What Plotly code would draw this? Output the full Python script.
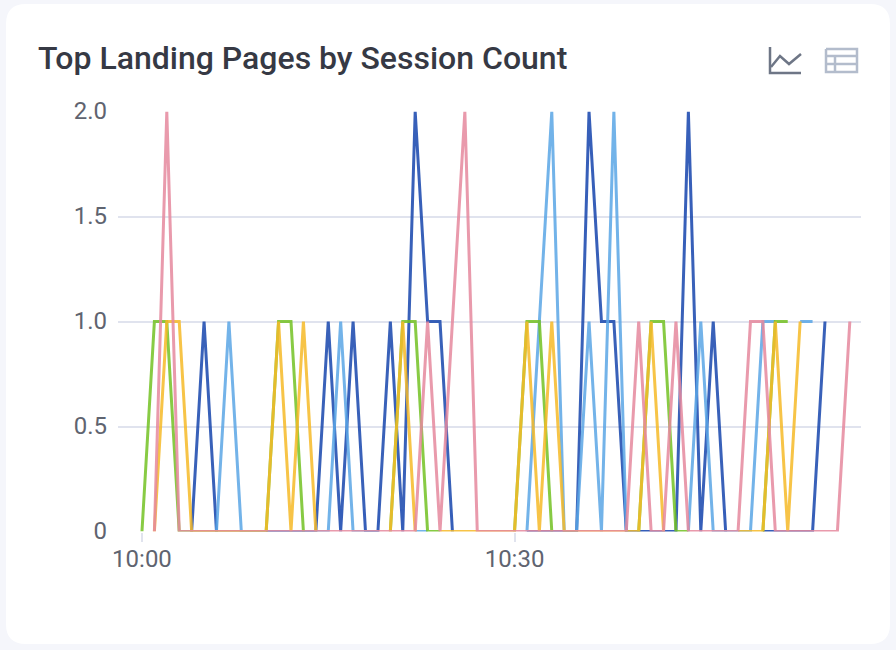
import plotly.graph_objects as go
from datetime import datetime, timedelta

N = None
# values per minute, starting at 10:00 (None = no data)
dark_blue = [N,N,N,N,0,1,0,N,N,N,0,0,0,0,0,1,0,1,0,0,1,0,2,1,1,0,N,N,N,N,N,0,0,0,0,0,2,1,1,0,0,0,0,0,2,0,1,0,N,N,0,0,0,0,0,1,N,N]
light_blue = [N,N,N,N,N,N,0,1,0,0,0,0,0,0,0,0,1,0,0,0,N,N,0,0,N,N,N,N,N,N,N,0,1,2,0,0,1,0,2,0,N,N,N,N,0,1,0,0,0,0,1,1,N,1,1,N,N,N]
green = [0,1,1,0,0,0,0,0,0,0,0,1,1,0,N,N,N,N,N,N,0,1,1,0,0,N,N,N,N,N,0,1,1,0,N,N,N,N,N,N,0,1,1,0,0,N,N,N,N,N,0,1,1,N,N,N,N,N]
yellow = [N,0,1,1,0,0,0,0,0,0,0,1,0,1,0,N,N,N,N,N,0,1,0,N,0,0,0,0,0,0,0,1,0,1,0,0,0,0,0,0,0,1,0,N,N,N,N,N,0,0,0,1,0,1,N,N,N,N]
pink = [N,0,2,0,0,0,0,0,0,0,0,0,0,0,0,0,0,0,0,0,0,0,0,1,0,1,2,0,0,0,0,0,0,0,0,0,0,0,0,0,1,0,0,1,0,0,0,0,0,1,1,0,0,0,0,0,0,1]
series = [dark_blue, light_blue, green, yellow, pink]
colors = ["#1746ad", "#5ba6e6", "#74c224", "#f6ba28", "#e6899e"]
start = datetime(2024, 1, 1, 10, 0)
times = [start + timedelta(minutes=i) for i in range(len(pink))]
y_ticks = [0, 0.5, 1, 1.5, 2]
y_labels = ["0", "0.5", "1.0", "1.5", "2.0"]
x_ticks = [start, start + timedelta(minutes=30)]
x_labels = ["10:00", "10:30"]

W, H = 896, 650
def px(x): return x / W
def py(y): return 1 - y / H

fig = go.Figure()
for vals, c in zip(series, colors):
    fig.add_trace(go.Scatter(x=times, y=vals, mode="lines", line=dict(color=c, width=3), opacity=0.85,
                             connectgaps=False, cliponaxis=False, showlegend=False, hoverinfo="skip"))

def icon(path, color, width=2.5, fill=None):
    return dict(type="path", path=path, xref="paper", yref="paper", layer="above",
                line=dict(color=color, width=width), fillcolor=fill or "rgba(0,0,0,0)")

def P(*pts):
    return "M " + " L ".join(f"{px(x):.5f} {py(y):.5f}" for x, y in pts)

shapes = [dict(type="path", xref="paper", yref="paper", layer="below", line=dict(width=0), fillcolor="#ffffff",
               path=(f"M {px(26)} {py(4)} L {px(870)} {py(4)} Q {px(890)} {py(4)} {px(890)} {py(24)} "
                     f"L {px(890)} {py(624)} Q {px(890)} {py(644)} {px(870)} {py(644)} "
                     f"L {px(26)} {py(644)} Q {px(6)} {py(644)} {px(6)} {py(624)} L {px(6)} {py(24)} Q {px(6)} {py(4)} {px(26)} {py(4)} Z"))]
ic = "#6e7686"
shapes += [icon(P((770, 47), (770, 73), (801, 73)), ic),
           icon(P((771, 67), (780, 56), (789, 64), (801, 54)), ic)]
tc = "#b3bccc"
shapes += [icon(P((826, 49), (857, 49), (857, 72), (826, 72), (826, 49)), tc),
           icon(P((826, 56), (857, 56)), tc), icon(P((826, 64), (857, 64)), tc),
           icon(P((835, 56), (835, 72)), tc)]

fig.update_layout(
    width=W, height=H, margin=dict(l=0, r=0, t=0, b=0, pad=0), autosize=False,
    paper_bgcolor="#f5f6fb", plot_bgcolor="rgba(0,0,0,0)",
    font=dict(family="Roboto", color="#5f6470", size=24),
    shapes=shapes,
    annotations=[dict(text="Top Landing Pages by Session Count", xref="paper", yref="paper", x=px(36), y=py(58),
                      xanchor="left", yanchor="middle", showarrow=False,
                      font=dict(family="Roboto", size=32, weight=500, color="#363944"))],
    xaxis=dict(domain=[px(118), px(861)], type="date", automargin=False,
               range=[start - timedelta(minutes=1.93), start + timedelta(minutes=57.9)],
               tickmode="array", tickvals=x_ticks, ticktext=x_labels, showgrid=False, zeroline=False,
               ticks="outside", ticklen=9, tickwidth=2, tickcolor="#e0e3ee", showline=False,
               ticklabelstandoff=-3),
    yaxis=dict(domain=[py(531.5), py(111.5)], range=[0, 2], tickmode="array", tickvals=y_ticks, ticktext=y_labels,
               automargin=False, gridcolor="#e0e3ee", gridwidth=2, zeroline=False, showline=False, ticks="",
               ticklabelstandoff=10, ticklabelshift=-1),
)
fig.write_html("out.html", config={"displayModeBar": False},
               post_script="document.body.style.margin='0';document.body.style.overflow='hidden';")
